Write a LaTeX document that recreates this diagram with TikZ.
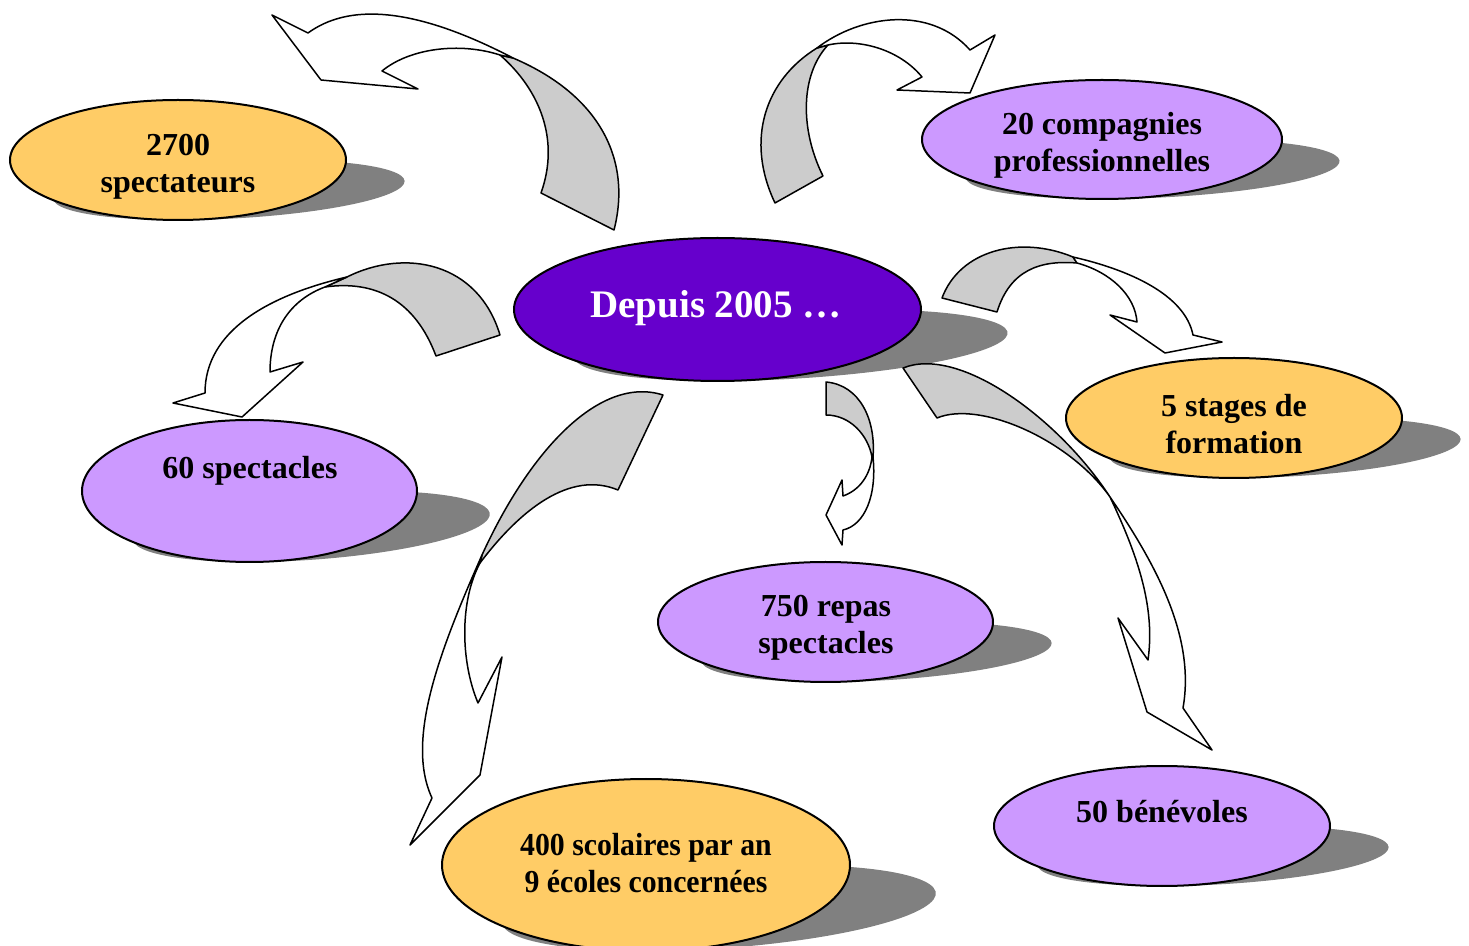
\documentclass[tikz,border=0pt]{standalone}
\usepackage{fontspec}
\setmainfont{Liberation Serif}
\usetikzlibrary{shapes.geometric}
\definecolor{yel}{HTML}{FFCC66}
\definecolor{lav}{HTML}{CC99FF}
\definecolor{pur}{HTML}{6600CC}
\definecolor{gry}{HTML}{CCCCCC}
\definecolor{shadowc}{HTML}{808080}
\newcommand\myshadow[5]{\begin{scope}[shift={(#1,#2+#4)}, cm={1,0,#5,0.5,(0,0)}]\fill[shadowc] (0,-#4) ellipse [x radius=#3, y radius=#4];\end{scope}}
\tikzset{
  ell/.style={ellipse, draw=black, line width=1pt, inner sep=0pt},
  lbl/.style={align=center, inner sep=0pt, font=\fontsize{16}{18.5}\selectfont\bfseries},
  bigl/.style={align=center, inner sep=0pt, text=white, font=\fontsize{19.5}{23}\selectfont\bfseries},
  back/.style={fill=gry, draw=black, line width=0.75pt, line join=round},
  front/.style={fill=white, draw=black, line width=0.75pt, line join=round}
}
\begin{document}
\begin{tikzpicture}[x=0.5pt,y=-0.5pt]
\useasboundingbox (0,0) rectangle (1469,946);
\clip (0,0) rectangle (1469,946);
% shadows
\myshadow{178}{160}{168}{60}{0.85}
\myshadow{1102}{139.5}{180}{59.5}{0.85}
\myshadow{717.5}{309.5}{203.5}{71.5}{1.03}
\myshadow{1234}{418}{168}{60}{0.85}
\myshadow{249.5}{491}{167.5}{71}{0.87}
\myshadow{825.5}{622}{167.5}{60}{0.85}
\myshadow{646}{865}{204}{86}{0.85}
\myshadow{1162}{826}{168}{60}{0.85}
% ellipses
\node[ell, fill=yel, minimum width=168pt, minimum height=60pt] (e1) at (178,160) {};
\node[ell, fill=lav, minimum width=180pt, minimum height=59.5pt] (e2) at (1102,139.5) {};
\node[ell, fill=pur, minimum width=203.5pt, minimum height=71.5pt] (e0) at (717.5,309.5) {};
\node[ell, fill=yel, minimum width=168pt, minimum height=60pt] (e3) at (1234,418) {};
\node[ell, fill=lav, minimum width=167.5pt, minimum height=71pt] (e4) at (249.5,491) {};
\node[ell, fill=lav, minimum width=167.5pt, minimum height=60pt] (e5) at (825.5,622) {};
\node[ell, fill=yel, minimum width=204pt, minimum height=86pt] (e6) at (646,865) {};
\node[ell, fill=lav, minimum width=168pt, minimum height=60pt] (e7) at (1162,826) {};
% texts
\node[lbl] (t1) at (178,167) {2700\\spectateurs};
\node[lbl] (t2) at (1102,145) {20 compagnies\\professionnelles};
\node[bigl] (t0) at (716,308) {Depuis 2005 …};
\node[lbl] (t3) at (1234,424) {5 stages de\\formation};
\node[lbl] (t4) at (250,471) {60 spectacles};
\node[lbl] (t5) at (826,628) {750 repas\\spectacles};
\node[lbl, xscale=0.93, transform shape] (t6) at (646,863) {400 scolaires par an\\9 écoles concernées};
\node[lbl] (t7) at (1162,812) {50 bénévoles};
% arrow 1
\draw[back] (541,193) .. controls (560,140) and (540,90) .. (500,55) -- (513,58) .. controls (600,95) and (632,160) .. (614,230) -- cycle;
\draw[front] (513,58) .. controls (440,20) and (360,-5) .. (308,33) -- (272,15) -- (321,80) -- (418,89) -- (382,71) .. controls (410,48) and (460,42) .. (500,55) -- cycle;
% arrow 2
\draw[back] (775,203) .. controls (745,140) and (765,80) .. (817,48) -- (828,45) .. controls (800,75) and (800,130) .. (823,176) -- cycle;
\draw[front] (817,48) .. controls (860,15) and (930,5) .. (970,50) -- (995,35) -- (970,93) -- (897,90) -- (922,77) .. controls (900,50) and (860,38) .. (828,45) -- cycle;
% arrow 3
\draw[back] (500,335) .. controls (478,262) and (405,248) .. (347,277) -- (325,287) .. controls (375,280) and (415,300) .. (436,356) -- cycle;
\draw[front] (347,277) .. controls (270,295) and (205,330) .. (205,393) -- (173,403) -- (242,417) -- (303,362) -- (270,372) .. controls (270,330) and (290,300) .. (325,287) -- cycle;
% arrow 4
\draw[back] (942,298) .. controls (960,250) and (1020,235) .. (1073,257) -- (1077,263) .. controls (1040,260) and (1010,270) .. (997,312) -- cycle;
\draw[front] (1073,257) .. controls (1130,270) and (1185,295) .. (1193,335) -- (1222,342) -- (1165,353) -- (1110,315) -- (1137,322) .. controls (1135,295) and (1110,272) .. (1077,263) -- cycle;
% arrow 5
\draw[back] (663,395) .. controls (600,375) and (530,450) .. (482,555) -- (480,563) .. controls (520,510) and (570,470) .. (618,490) -- cycle;
\draw[front] (482,555) .. controls (440,650) and (405,740) .. (432,798) -- (410,845) -- (480,775) -- (502,657) -- (478,703) .. controls (460,660) and (460,600) .. (480,563) -- cycle;
% arrow 6
\draw[back] (826,382) .. controls (860,385) and (876,420) .. (873,457) -- (872,457) .. controls (868,435) and (850,415) .. (826,415) -- cycle;
\draw[front] (873,457) .. controls (877,495) and (865,525) .. (843,530) -- (842,545) -- (826,515) -- (842,480) -- (843,496) .. controls (860,490) and (870,475) .. (872,457) -- cycle;
% arrow 7
\draw[back] (903,368) .. controls (960,345) and (1060,420) .. (1110,497) .. controls (1070,440) and (980,400) .. (937,418) -- cycle;
\draw[front] (1110,497) .. controls (1160,570) and (1195,640) .. (1183,708) -- (1212,750) -- (1147,712) -- (1118,618) -- (1148,660) .. controls (1155,610) and (1140,560) .. (1110,497) -- cycle;
\end{tikzpicture}
\end{document}
